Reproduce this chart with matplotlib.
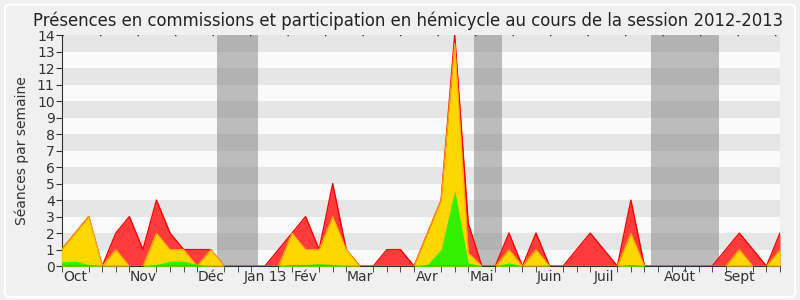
import matplotlib.pyplot as plt
from matplotlib.patches import FancyBboxPatch
import numpy as np

# weekly values, session 2012-2013 (54 weeks)
weeks = np.arange(54)
commission = [1, 2, 3, 0, 2, 3, 1, 4, 2, 1, 1, 1, 0, 0, 0, 0, 1, 2, 3, 1,
              5, 1, 0, 0, 1, 1, 0, 2, 4, 14, 2.6, 0, 0, 2, 0, 2, 0, 0, 1, 2,
              1, 0, 4, 0, 0, 0, 0, 0, 0, 1, 2, 1, 0, 2]
presence = [1, 2, 3, 0, 1, 0, 0, 2, 1, 1, 0, 1, 0, 0, 0, 0, 0, 2, 1, 1,
            3, 1, 0, 0, 0, 0, 0, 2, 4, 13.5, 0.8, 0, 0, 1, 0, 1, 0, 0, 0, 0,
            0, 0, 2, 0, 0, 0, 0, 0, 0, 0, 1, 0, 0, 1]
hemicycle = [0.25, 0.3, 0.1, 0, 0, 0, 0, 0.1, 0.3, 0.3, 0.1, 0, 0, 0, 0, 0, 0, 0.1, 0.1, 0.15,
             0.1, 0, 0, 0, 0, 0, 0, 0.1, 1, 4.6, 0.2, 0, 0, 0.2, 0, 0, 0, 0, 0, 0,
             0, 0, 0.1, 0, 0, 0, 0, 0, 0, 0, 0, 0, 0, 0]

month_pos = [1, 6, 11, 15, 18, 22, 27, 31, 36, 40, 45.6, 50]
month_labels = ["Oct", "Nov", "Déc", "Jan 13", "Fév", "Mar", "Avr", "Mai",
                "Juin", "Juil", "Août", "Sept"]
vacances = [(11.5, 14.5), (30.45, 32.5), (43.5, 48.5)]

fig = plt.figure(figsize=(8, 3), dpi=100, facecolor="#f0f0f0")
# rounded white frame around the chart
fig.patches.append(FancyBboxPatch((0.006, 0.01), 0.988, 0.975, boxstyle="round,pad=0,rounding_size=0.012",
                                  transform=fig.transFigure, fc="none", ec="white", lw=1.5))
ax = fig.add_axes([0.077, 0.113, 0.898, 0.77])
ax.set_facecolor("#fafafa")

# stripes
for k in range(1, 14, 2):
    ax.axhspan(k, k + 1, color="#e6e6e6", lw=0, zorder=0)
for a, b in vacances:
    ax.axvspan(a, b, color="gray", alpha=0.5, lw=0, zorder=1)

ax.fill_between(weeks, commission, color="#ff3b3b", lw=0, zorder=2)
ax.plot(weeks, commission, color="#ff0000", lw=1, zorder=2)
ax.fill_between(weeks, presence, color="#ffd700", lw=0, zorder=3)
ax.plot(weeks, presence, color="#ffaa00", lw=0.8, zorder=3)
ax.fill_between(weeks, hemicycle, color="#33f000", lw=0, zorder=4)
ax.plot(weeks, np.zeros(54), color="#803000", lw=1, zorder=5)
ax.axhline(14, color="#333333", lw=1, ls=(0, (1, 26)), zorder=5)

ax.set_xlim(0, 53)
ax.set_ylim(0, 14)
ax.set_yticks(range(15))
ax.set_xticks(weeks, minor=True)
ax.set_xticks(month_pos)
ax.set_xticklabels(month_labels)
ax.tick_params(axis="x", which="major", length=0, labelsize=10, colors="#333333", pad=3)
ax.tick_params(axis="x", which="minor", length=4, color="#333333")
ax.tick_params(axis="y", length=4, labelsize=10, colors="#333333", pad=1)
for s in ["top", "right"]:
    ax.spines[s].set_visible(False)
ax.spines["left"].set_color("#333333")
ax.spines["bottom"].set_color("#333333")

ax.set_ylabel("Séances par semaine", fontsize=10, color="#333333", labelpad=6)
fig.text(0.51, 0.96, "Présences en commissions et participation en hémicycle au cours de la session 2012-2013",
         ha="center", va="top", fontsize=11.9, color="#222222")

fig.savefig("out.png", dpi=100, facecolor=fig.get_facecolor())
